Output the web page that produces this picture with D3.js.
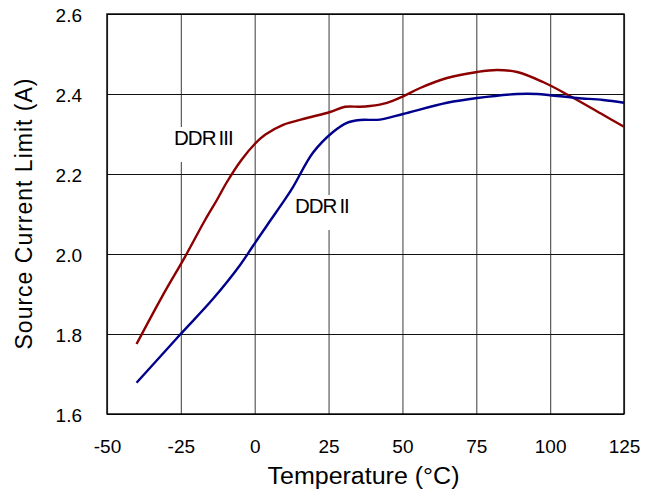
<!DOCTYPE html>
<html>
<head>
<meta charset="utf-8">
<script src="https://cdn.jsdelivr.net/npm/d3@7"></script>
<style>
  body { margin: 0; background: #fff; }
  svg text { font-family: Arial, "Liberation Sans", sans-serif; fill: #000; }
</style>
</head>
<body>
<svg id="chart" width="658" height="494"></svg>
<script>
// temperature (°C) and source current limit (A)
const ddr3Temp = [-40, -31.4, -23.6, -16.8, -12.8, -9.4, -4.5, 0, 3.5, 9.6, 17.7, 25.5, 30.6, 35.6, 39, 44.8, 49.9, 56, 65.1, 75.3, 82, 88.8, 97.6, 106.7, 117.9, 125];
const ddr3Amp  = [1.775, 1.893, 1.993, 2.085, 2.135, 2.18, 2.235, 2.275, 2.298, 2.323, 2.34, 2.355, 2.368, 2.368, 2.37, 2.378, 2.393, 2.415, 2.44, 2.455, 2.46, 2.455, 2.43, 2.395, 2.348, 2.318];

const ddr2Temp = [-40, -25.3, -14.1, -5, -0.6, 4.2, 10.3, 13, 19.7, 26.5, 31.2, 35.6, 42.4, 50.2, 65.1, 75.3, 88.8, 95.6, 100, 109.1, 117.9, 125];
const ddr2Amp  = [1.678, 1.798, 1.888, 1.972, 2.02, 2.072, 2.137, 2.168, 2.253, 2.305, 2.328, 2.335, 2.336, 2.35, 2.378, 2.39, 2.4, 2.4, 2.397, 2.39, 2.385, 2.378];

const xTicks = [-50, -25, 0, 25, 50, 75, 100, 125];
const yTicks = [1.6, 1.8, 2.0, 2.2, 2.4, 2.6];

const seriesNames = ['DDR\u2009III', 'DDR\u2009II'];

const margin = { top: 14, left: 107, right: 34, bottom: 80 };
const W = 658, H = 494;
const w = W - margin.left - margin.right;
const h = H - margin.top - margin.bottom;

const svg = d3.select('#chart');
const g = svg.append('g').attr('transform', `translate(${margin.left},${margin.top})`);

const x = d3.scaleLinear().domain([-50, 125]).range([0, w]);
const y = d3.scaleLinear().domain([1.6, 2.6]).range([h, 0]);

// grid: vertical grey, horizontal black
g.append('g')
  .attr('transform', `translate(0,${h})`)
  .call(d3.axisBottom(x).tickValues(xTicks).tickSize(-h).tickFormat(''))
  .call(a => a.select('.domain').remove())
  .call(a => a.selectAll('line').attr('stroke', '#5a5a5a').attr('stroke-width', 1.2));

g.append('g')
  .call(d3.axisLeft(y).tickValues(yTicks).tickSize(-w).tickFormat(''))
  .call(a => a.select('.domain').remove())
  .call(a => a.selectAll('line').attr('stroke', '#111').attr('stroke-width', 1.1));

// series labels with white boxes breaking the grid
const labels = [
  { name: seriesNames[0], t: -27.3, a: 2.2725 },
  { name: seriesNames[1], t: 13.6, a: 2.1025 },
];
const lab = g.append('g');
labels.forEach(d => {
  const t = lab.append('text')
    .attr('x', x(d.t)).attr('y', y(d.a))
    .style('font-size', '20.5px')
    .style('letter-spacing', '-1px')
    .text(d.name);
  const bb = t.node().getBBox();
  lab.insert('rect', 'text')
    .attr('x', bb.x - 3).attr('y', y(d.a) - 18)
    .attr('width', bb.width + 6).attr('height', 35)
    .attr('fill', '#fff');
});

// frame
g.append('rect')
  .attr('width', w).attr('height', h)
  .attr('fill', 'none').attr('stroke', '#000').attr('stroke-width', 1.4);

const line = d3.line()
  .x(d => x(d[0]))
  .y(d => y(d[1]))
  .curve(d3.curveCatmullRom.alpha(0.5));

g.append('path')
  .attr('d', line(d3.zip(ddr3Temp, ddr3Amp)))
  .attr('fill', 'none').attr('stroke', '#8c0000').attr('stroke-width', 2.4);
g.append('path')
  .attr('d', line(d3.zip(ddr2Temp, ddr2Amp)))
  .attr('fill', 'none').attr('stroke', '#00008c').attr('stroke-width', 2.4);

// tick labels (plain hyphen minus, like the original)
g.append('g')
  .attr('transform', `translate(0,${h})`)
  .call(d3.axisBottom(x).tickValues(xTicks).tickSize(0).tickPadding(26).tickFormat(d => String(d)))
  .call(a => a.select('.domain').remove())
  .call(a => a.selectAll('text').style('font-size', '19px').attr('fill', '#000'));

g.append('g')
  .call(d3.axisLeft(y).tickValues(yTicks).tickSize(0).tickPadding(25).tickFormat(d3.format('.1f')))
  .call(a => a.select('.domain').remove())
  .call(a => a.selectAll('text').style('font-size', '19px').attr('fill', '#000').attr('dy', '0.4em'));

// axis titles
svg.append('text')
  .attr('x', margin.left + w / 2 - 2).attr('y', 484)
  .attr('text-anchor', 'middle')
  .style('font-size', '23px')
  .attr('textLength', 192).attr('lengthAdjust', 'spacingAndGlyphs')
  .text('Temperature (°C)');

svg.append('text')
  .attr('transform', `translate(32,${margin.top + h / 2}) rotate(-90)`)
  .attr('text-anchor', 'middle')
  .style('font-size', '23px')
  .attr('textLength', 271).attr('lengthAdjust', 'spacing')
  .text('Source Current Limit (A)');
</script>
</body>
</html>
